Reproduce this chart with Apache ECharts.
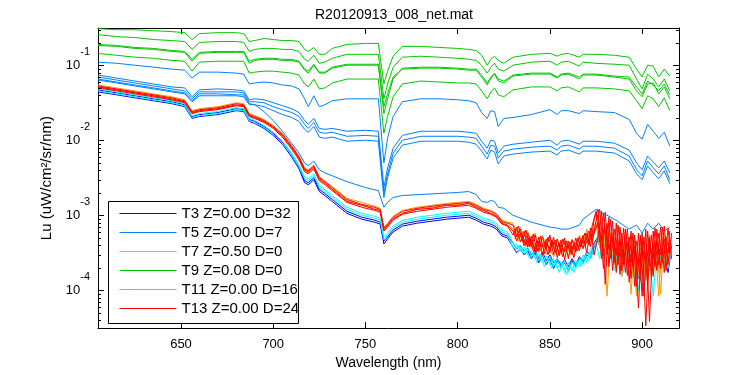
<!DOCTYPE html>
<html><head><meta charset="utf-8">
<script src="https://cdn.jsdelivr.net/npm/echarts@6/dist/echarts.min.js"></script>
<style>html,body{margin:0;padding:0;background:#fff}#c{width:750px;height:375px}</style>
</head><body><div id="c"></div>
<script>
// Wavelength grids (nm)
const wlMain = [605,615,625,635,645,652,656,660,670,680,684,687,690,695,700,705,710,714,717,719,722,725,728,732,740,750,757,760,762,765,770,780,790,800,806,810,813,816,818,820,822,825,830,840,850,854,856,860,866,868,875,885,893,897,900,903,906,909,912,915];
const wlLow = [605,615,625,635,645,652,656,660,670,680,684,687,690,695,700,705,710,714,717,719,722,725,728,732,740,748,755,758,760,762,765,770,778,786,794,800,806,810,814,818,821,824,827,
830,832,834,836,838,840,842,844,846,848,850,852,854,856,858,860,862,864,866,868,870,872,874,876,878,880,882,884,886,888,890,892,894,896,898,900,902,904,906,908,910,912,914,916];
const wlTailOdd = [831,833,835,837,839,841,843,845,847,849,851,853,855,857,859,861,863,865,867,869,871,873,875,877,879,881,883,885,887,889,891,893,895,897,899,901,903,905,907,909,911,913,915];

const legendNames = ['T3 Z=0.00 D=32','T5 Z=0.00 D=7','T7 Z=0.50 D=0','T9 Z=0.08 D=0','T11 Z=0.00 D=16','T13 Z=0.00 D=24'];
const lineColors = ['#0000ff','#0080ff','#00ffff','#00c800','#ff9900','#ff0000'];

// T9 (green) spectra, Lu on wlMain
const t9a = [0.310,0.300,0.300,0.291,0.283,0.274,0.222,0.266,0.274,0.274,0.266,0.209,0.215,0.229,0.222,0.215,0.215,0.209,0.164,0.154,0.174,0.141,0.141,0.169,0.191,0.197,0.197,0.0567,0.0841,0.133,0.180,0.180,0.174,0.169,0.164,0.159,0.137,0.101,0.121,0.133,0.117,0.107,0.129,0.141,0.145,0.133,0.141,0.145,0.129,0.141,0.141,0.137,0.129,0.0894,0.0702,0.101,0.098,0.0702,0.0894,0.0723];
const t9b = [0.258,0.243,0.236,0.222,0.215,0.209,0.164,0.203,0.209,0.209,0.203,0.154,0.164,0.169,0.169,0.164,0.164,0.154,0.121,0.114,0.137,0.107,0.111,0.125,0.141,0.141,0.141,0.036,0.0567,0.095,0.129,0.133,0.129,0.125,0.121,0.117,0.101,0.0792,0.095,0.107,0.0894,0.0841,0.101,0.111,0.114,0.101,0.111,0.114,0.098,0.111,0.107,0.104,0.101,0.066,0.0488,0.0769,0.066,0.0518,0.066,0.0459];
const t9c = [0.191,0.185,0.174,0.169,0.159,0.154,0.121,0.150,0.154,0.154,0.154,0.114,0.121,0.125,0.125,0.121,0.121,0.114,0.0894,0.0841,0.104,0.0816,0.0816,0.095,0.104,0.104,0.104,0.0229,0.036,0.066,0.0922,0.095,0.095,0.0922,0.0894,0.0894,0.0746,0.0585,0.0702,0.0792,0.066,0.0621,0.0746,0.0792,0.0792,0.0702,0.0769,0.0792,0.0702,0.0769,0.0769,0.0723,0.0702,0.0518,0.0419,0.0621,0.055,0.0459,0.0567,0.0407];
const t9d = [0.185,0.180,0.169,0.164,0.154,0.150,0.114,0.145,0.150,0.150,0.150,0.107,0.117,0.121,0.121,0.117,0.117,0.111,0.0868,0.0792,0.101,0.0792,0.0792,0.0922,0.101,0.101,0.101,0.0283,0.0419,0.0702,0.0894,0.0922,0.0922,0.0894,0.0868,0.0868,0.0702,0.055,0.0681,0.0769,0.0621,0.0585,0.0723,0.0769,0.0769,0.0681,0.0746,0.0769,0.066,0.0746,0.0746,0.0702,0.066,0.0459,0.0383,0.0567,0.0585,0.0419,0.0518,0.036];
const t9e = [0.145,0.137,0.129,0.125,0.117,0.114,0.0841,0.111,0.114,0.114,0.114,0.0792,0.0816,0.0841,0.0841,0.0816,0.0792,0.0746,0.0567,0.0518,0.066,0.0488,0.0503,0.0585,0.066,0.066,0.066,0.0125,0.0209,0.0383,0.0567,0.0621,0.0603,0.0585,0.0585,0.0567,0.0459,0.036,0.0445,0.0503,0.0407,0.0383,0.0473,0.0518,0.0518,0.0459,0.0503,0.0518,0.0445,0.0503,0.0503,0.0488,0.0459,0.0339,0.0266,0.0395,0.036,0.0283,0.0371,0.025];

// T5 (light blue) spectra, Lu on wlMain
const t5a = [0.1105,0.1072,0.1009,0.095,0.0894,0.0868,0.0681,0.0816,0.0816,0.0792,0.0769,0.0567,0.0585,0.0603,0.0585,0.055,0.0534,0.0488,0.036,0.0283,0.0395,0.0283,0.030,0.0339,0.036,0.036,0.036,0.00503,0.0107,0.0209,0.0329,0.036,0.036,0.0349,0.0339,0.0319,0.0236,0.0197,0.025,0.0243,0.0154,0.0197,0.0203,0.0222,0.0258,0.0222,0.025,0.025,0.0229,0.025,0.0243,0.0236,0.0191,0.0125,0.0104,0.0164,0.0133,0.0107,0.0129,0.00841];
const t5b = [0.0746,0.0681,0.0621,0.0567,0.0518,0.0503,0.0383,0.0473,0.0488,0.0473,0.0459,0.0349,0.036,0.0349,0.0319,0.0291,0.0266,0.0236,0.0185,0.0164,0.0197,0.0145,0.0141,0.0145,0.0133,0.0137,0.0133,0.00236,0.00432,0.00792,0.0117,0.0133,0.0133,0.0133,0.0129,0.0125,0.00979,0.00792,0.0101,0.00979,0.00681,0.00841,0.00894,0.0095,0.0101,0.00868,0.00979,0.0101,0.00894,0.00979,0.00979,0.00922,0.00746,0.00503,0.00407,0.00621,0.00518,0.00432,0.00534,0.00371];
const t5c = [0.0702,0.0641,0.0585,0.0534,0.0488,0.0459,0.036,0.0445,0.0445,0.0445,0.0432,0.0329,0.0329,0.0319,0.0283,0.0258,0.0236,0.0209,0.0164,0.0145,0.0174,0.0129,0.0125,0.0129,0.0114,0.0117,0.0114,0.00197,0.0036,0.00681,0.0101,0.0114,0.0114,0.0114,0.0111,0.0107,0.00841,0.0066,0.00868,0.00841,0.00585,0.00723,0.00769,0.00816,0.00841,0.00746,0.00841,0.00868,0.00769,0.00841,0.00841,0.00792,0.00621,0.00407,0.00339,0.00534,0.00432,0.0036,0.00459,0.0030];
const t5d = [0.066,0.0603,0.055,0.0503,0.0459,0.0432,0.0339,0.0419,0.0419,0.0407,0.0407,0.031,0.030,0.0283,0.025,0.0222,0.0203,0.018,0.0141,0.0129,0.0154,0.0111,0.0107,0.0111,0.00979,0.0101,0.00979,0.00174,0.00319,0.00585,0.00868,0.00979,0.00979,0.00979,0.0095,0.00894,0.00723,0.00567,0.00746,0.00702,0.00488,0.00621,0.0066,0.00702,0.00723,0.00641,0.00723,0.00746,0.0066,0.00723,0.00723,0.00681,0.00534,0.0036,0.0030,0.00459,0.00371,0.0031,0.00395,0.00266];
const t5e = [0.0641,0.0585,0.0534,0.0488,0.0445,0.0419,0.0329,0.0395,0.0395,0.0395,0.0383,0.030,0.030,0.0243,0.0185,0.0133,0.00922,0.00681,0.00503,0.00459,0.00534,0.00407,0.00371,0.00339,0.00283,0.00236,0.00215,0.00129,0.0015,0.00174,0.00185,0.00191,0.00197,0.00203,0.00209,0.00191,0.00154,0.0015,0.00159,0.00154,0.00129,0.00125,0.00101,0.000816,0.000702,0.000681,0.00066,0.00066,0.000746,0.000894,0.00121,0.000894,0.00066,0.000746,0.000585,0.000792,0.00066,0.000792,0.000621,0.000702];

// Bottom bundle spectra, Lu on wlLow
const t3a = [4.45e-2,4.07e-2,3.71e-2,3.39e-2,3.10e-2,2.83e-2,1.97e-2,2.09e-2,2.22e-2,2.50e-2,2.43e-2,1.80e-2,1.69e-2,1.45e-2,1.17e-2,8.94e-3,6.03e-3,4.19e-3,2.74e-3,2.58e-3,3.00e-3,2.09e-3,1.85e-3,1.54e-3,1.07e-3,8.94e-4,8.16e-4,7.69e-4,4.19e-4,4.88e-4,6.03e-4,7.23e-4,7.92e-4,8.41e-4,8.94e-4,9.22e-4,9.50e-4,8.68e-4,7.69e-4,7.23e-4,6.60e-4,5.34e-4,5.03e-4,
3.83e-4,3.19e-4,3.60e-4,3.00e-4,3.39e-4,2.66e-4,3.19e-4,2.36e-4,3.00e-4,2.22e-4,2.66e-4,1.97e-4,2.50e-4,2.09e-4,2.36e-4,1.85e-4,2.50e-4,2.09e-4,2.66e-4,2.36e-4,3.00e-4,2.66e-4,3.83e-4,4.59e-4,3.39e-4,5.50e-4,3.00e-4,4.59e-4,2.50e-4,3.83e-4,2.09e-4,4.32e-4,2.36e-4,3.60e-4,1.45e-4,3.83e-4,1.74e-4,4.32e-4,2.22e-4,4.07e-4,2.66e-4,3.83e-4,1.74e-4,3.60e-4];
const t3b = [4.73e-2,4.32e-2,3.95e-2,3.60e-2,3.29e-2,3.00e-2,2.09e-2,2.22e-2,2.36e-2,2.66e-2,2.58e-2,1.91e-2,1.80e-2,1.54e-2,1.25e-2,9.50e-3,6.41e-3,4.45e-3,2.91e-3,2.74e-3,3.19e-3,2.22e-3,1.97e-3,1.64e-3,1.14e-3,9.50e-4,8.68e-4,8.16e-4,4.59e-4,5.18e-4,6.41e-4,7.69e-4,8.41e-4,8.94e-4,9.50e-4,9.79e-4,1.01e-3,9.22e-4,8.16e-4,7.69e-4,7.02e-4,5.67e-4,5.34e-4,
4.32e-4,3.60e-4,3.95e-4,3.39e-4,3.71e-4,3.00e-4,3.49e-4,2.66e-4,3.29e-4,2.50e-4,3.00e-4,2.36e-4,2.66e-4,2.22e-4,2.58e-4,2.09e-4,2.66e-4,2.22e-4,2.83e-4,2.50e-4,3.29e-4,3.00e-4,4.32e-4,5.18e-4,3.83e-4,5.85e-4,3.19e-4,4.88e-4,2.83e-4,4.07e-4,2.50e-4,4.59e-4,2.66e-4,4.07e-4,2.09e-4,4.32e-4,1.97e-4,4.59e-4,2.36e-4,4.32e-4,3.00e-4,4.07e-4,2.36e-4,3.83e-4];
const t7a = [4.88e-2,4.45e-2,4.07e-2,3.71e-2,3.39e-2,3.10e-2,2.15e-2,2.29e-2,2.43e-2,2.74e-2,2.66e-2,1.97e-2,1.85e-2,1.59e-2,1.29e-2,9.79e-3,6.81e-3,4.73e-3,3.29e-3,3.10e-3,3.60e-3,2.50e-3,2.22e-3,1.85e-3,1.29e-3,1.07e-3,9.79e-4,9.22e-4,5.18e-4,5.85e-4,7.23e-4,8.68e-4,9.50e-4,1.01e-3,1.07e-3,1.11e-3,1.14e-3,1.04e-3,9.22e-4,8.68e-4,7.92e-4,6.41e-4,6.03e-4,
4.32e-4,3.60e-4,4.07e-4,3.19e-4,3.83e-4,2.83e-4,3.39e-4,2.50e-4,3.10e-4,2.36e-4,2.83e-4,2.09e-4,2.66e-4,1.97e-4,2.50e-4,1.74e-4,2.43e-4,1.97e-4,2.66e-4,2.22e-4,3.19e-4,2.66e-4,4.07e-4,4.88e-4,3.00e-4,4.32e-4,2.50e-4,3.83e-4,2.09e-4,3.39e-4,1.74e-4,3.19e-4,2.09e-4,3.00e-4,1.01e-4,3.19e-4,1.45e-4,3.00e-4,8.41e-5,3.39e-4,1.74e-4,3.83e-4,1.97e-4,3.60e-4];
const t7b = [4.59e-2,4.19e-2,3.83e-2,3.49e-2,3.19e-2,2.91e-2,2.03e-2,2.15e-2,2.29e-2,2.58e-2,2.50e-2,1.85e-2,1.74e-2,1.50e-2,1.21e-2,9.22e-3,6.41e-3,4.45e-3,3.10e-3,2.91e-3,3.39e-3,2.36e-3,2.09e-3,1.74e-3,1.21e-3,1.01e-3,9.22e-4,8.68e-4,4.73e-4,5.50e-4,6.81e-4,8.16e-4,8.94e-4,9.50e-4,1.01e-3,1.04e-3,1.07e-3,9.79e-4,8.68e-4,8.16e-4,7.46e-4,6.03e-4,5.67e-4,
3.71e-4,4.19e-4,3.39e-4,3.83e-4,3.00e-4,3.39e-4,2.66e-4,3.10e-4,2.36e-4,2.91e-4,2.22e-4,2.66e-4,1.97e-4,2.43e-4,1.74e-4,2.36e-4,1.85e-4,2.50e-4,2.09e-4,3.00e-4,2.36e-4,3.60e-4,3.00e-4,5.50e-4,3.83e-4,5.18e-4,3.19e-4,4.59e-4,2.66e-4,4.07e-4,2.22e-4,3.60e-4,2.50e-4,1.37e-4,3.00e-4,9.50e-5,3.19e-4,1.85e-4,3.39e-4,2.09e-4,3.60e-4,2.22e-4,3.83e-4,3.00e-4];
const t11a = [5.50e-2,5.03e-2,4.59e-2,4.19e-2,3.83e-2,3.49e-2,2.50e-2,2.66e-2,2.83e-2,3.19e-2,3.10e-2,2.29e-2,2.15e-2,1.91e-2,1.59e-2,1.25e-2,8.68e-3,6.21e-3,4.32e-3,4.07e-3,4.73e-3,3.29e-3,2.91e-3,2.43e-3,1.69e-3,1.50e-3,1.33e-3,1.25e-3,7.02e-4,7.92e-4,9.79e-4,1.17e-3,1.29e-3,1.37e-3,1.45e-3,1.50e-3,1.54e-3,1.41e-3,1.25e-3,1.17e-3,1.07e-3,8.68e-4,8.16e-4,
7.92e-4,5.85e-4,7.02e-4,5.18e-4,6.21e-4,4.32e-4,5.85e-4,4.07e-4,5.50e-4,3.83e-4,5.18e-4,3.60e-4,4.88e-4,3.83e-4,4.59e-4,3.39e-4,4.88e-4,3.83e-4,5.50e-4,4.32e-4,6.60e-4,4.32e-4,7.02e-4,1.01e-3,3.83e-4,7.46e-4,2.66e-4,5.85e-4,2.09e-4,5.18e-4,2.66e-4,4.59e-4,8.94e-5,5.18e-4,1.74e-4,4.88e-4,1.54e-4,5.50e-4,2.09e-4,4.59e-4,8.94e-5,5.85e-4,2.36e-4,5.18e-4];
const t11b = [5.18e-2,4.73e-2,4.32e-2,3.95e-2,3.49e-2,3.29e-2,2.29e-2,2.50e-2,2.66e-2,2.91e-2,2.91e-2,2.15e-2,1.97e-2,1.80e-2,1.50e-2,1.14e-2,7.92e-3,5.67e-3,3.95e-3,3.71e-3,4.32e-3,3.00e-3,2.66e-3,2.29e-3,1.59e-3,1.37e-3,1.25e-3,1.17e-3,6.60e-4,7.23e-4,9.22e-4,1.07e-3,1.21e-3,1.29e-3,1.37e-3,1.41e-3,1.45e-3,1.33e-3,1.17e-3,1.07e-3,1.01e-3,8.16e-4,7.69e-4,
6.60e-4,4.88e-4,5.50e-4,4.07e-4,4.88e-4,3.60e-4,4.32e-4,3.19e-4,4.07e-4,3.00e-4,3.83e-4,2.83e-4,3.60e-4,3.00e-4,3.83e-4,2.83e-4,4.07e-4,3.19e-4,4.32e-4,3.83e-4,5.18e-4,4.07e-4,5.85e-4,7.92e-4,3.19e-4,6.21e-4,2.36e-4,4.88e-4,1.85e-4,4.32e-4,2.09e-4,4.07e-4,1.54e-4,3.83e-4,1.74e-4,4.32e-4,1.37e-4,4.59e-4,1.74e-4,4.07e-4,1.97e-4,4.59e-4,2.22e-4,4.32e-4];
const t13a = [5.34e-2,4.88e-2,4.45e-2,4.07e-2,3.71e-2,3.39e-2,2.43e-2,2.58e-2,2.74e-2,3.10e-2,3.00e-2,2.22e-2,2.09e-2,1.85e-2,1.54e-2,1.21e-2,8.41e-3,6.03e-3,4.19e-3,3.95e-3,4.59e-3,3.19e-3,2.83e-3,2.36e-3,1.64e-3,1.41e-3,1.29e-3,1.21e-3,6.81e-4,7.69e-4,9.50e-4,1.14e-3,1.25e-3,1.33e-3,1.41e-3,1.45e-3,1.50e-3,1.37e-3,1.21e-3,1.14e-3,1.04e-3,8.41e-4,7.92e-4,
7.46e-4,5.18e-4,6.60e-4,4.32e-4,5.85e-4,3.83e-4,5.50e-4,3.39e-4,5.18e-4,3.60e-4,5.50e-4,3.00e-4,4.88e-4,3.19e-4,5.03e-4,2.66e-4,4.73e-4,3.29e-4,5.18e-4,3.60e-4,5.85e-4,3.83e-4,8.94e-4,1.21e-3,2.66e-4,1.11e-3,2.09e-4,8.41e-4,1.74e-4,7.02e-4,2.22e-4,6.60e-4,1.45e-4,5.50e-4,5.85e-5,5.85e-4,3.39e-5,5.18e-4,1.54e-4,6.60e-4,1.97e-4,7.23e-4,2.22e-4,5.85e-4];
const t13b = [5.03e-2,4.59e-2,4.19e-2,3.83e-2,3.49e-2,3.19e-2,2.29e-2,2.43e-2,2.58e-2,2.91e-2,2.83e-2,2.09e-2,1.97e-2,1.74e-2,1.45e-2,1.11e-2,7.69e-3,5.50e-3,3.83e-3,3.60e-3,4.19e-3,2.91e-3,2.58e-3,2.15e-3,1.50e-3,1.29e-3,1.17e-3,1.11e-3,6.21e-4,7.02e-4,8.68e-4,1.04e-3,1.14e-3,1.21e-3,1.29e-3,1.33e-3,1.37e-3,1.25e-3,1.11e-3,1.04e-3,9.50e-4,7.69e-4,7.23e-4,
5.50e-4,7.02e-4,4.45e-4,6.21e-4,3.83e-4,5.34e-4,3.19e-4,5.18e-4,3.00e-4,4.88e-4,3.19e-4,5.18e-4,2.74e-4,4.73e-4,2.58e-4,4.59e-4,3.00e-4,5.03e-4,3.39e-4,5.50e-4,3.19e-4,6.81e-4,3.00e-4,5.18e-4,1.14e-3,1.21e-4,9.50e-4,1.85e-4,7.92e-4,1.64e-4,6.81e-4,1.59e-4,6.21e-4,1.14e-4,5.85e-4,8.41e-5,6.60e-4,3.83e-5,6.21e-4,1.85e-4,7.02e-4,1.74e-4,6.81e-4,2.66e-4];
const t13c = [5.18e-2,4.73e-2,4.32e-2,3.95e-2,3.60e-2,3.29e-2,2.36e-2,2.50e-2,2.66e-2,3.00e-2,2.91e-2,2.15e-2,2.03e-2,1.80e-2,1.50e-2,1.17e-2,8.16e-3,5.85e-3,4.07e-3,3.83e-3,4.45e-3,3.10e-3,2.74e-3,2.22e-3,1.54e-3,1.37e-3,1.21e-3,1.17e-3,6.41e-4,7.46e-4,8.94e-4,1.07e-3,1.21e-3,1.25e-3,1.37e-3,1.37e-3,1.45e-3,1.29e-3,1.17e-3,1.07e-3,9.79e-4,7.92e-4,7.46e-4,
6.21e-4,4.59e-4,5.85e-4,3.95e-4,5.03e-4,4.32e-4,3.60e-4,4.59e-4,3.83e-4,4.32e-4,3.60e-4,4.45e-4,3.83e-4,4.07e-4,3.29e-4,3.95e-4,3.60e-4,4.32e-4,3.83e-4,4.59e-4,4.32e-4,4.88e-4,5.85e-4,7.92e-4,4.59e-4,6.60e-4,3.60e-4,5.18e-4,3.00e-4,4.59e-4,2.66e-4,4.32e-4,2.36e-4,3.83e-4,2.09e-4,3.60e-4,2.36e-4,4.07e-4,2.66e-4,4.45e-4,3.00e-4,4.88e-4,3.19e-4,4.07e-4];

// Extra noisy-tail spectra, Lu on wlTailOdd
const t7c = [3.60e-4,4.07e-4,3.19e-4,3.60e-4,2.66e-4,3.19e-4,2.36e-4,3.00e-4,2.09e-4,2.66e-4,1.97e-4,2.50e-4,1.74e-4,2.36e-4,1.64e-4,2.22e-4,1.74e-4,2.50e-4,2.09e-4,3.00e-4,2.50e-4,3.83e-4,4.32e-4,2.66e-4,5.18e-4,2.09e-4,4.32e-4,1.85e-4,3.60e-4,1.54e-4,3.83e-4,1.74e-4,3.19e-4,8.94e-5,3.60e-4,1.21e-4,3.39e-4,1.54e-4,3.83e-4,1.74e-4,4.07e-4,2.09e-4,3.39e-4];
const t11c = [6.60e-4,4.59e-4,5.85e-4,3.83e-4,5.18e-4,3.60e-4,4.59e-4,3.39e-4,4.59e-4,3.83e-4,4.32e-4,3.19e-4,4.07e-4,3.39e-4,4.32e-4,3.00e-4,4.07e-4,3.60e-4,4.88e-4,3.83e-4,5.50e-4,4.32e-4,7.92e-4,3.83e-4,6.60e-4,8.41e-5,5.85e-4,2.22e-4,4.59e-4,1.54e-4,5.18e-4,1.97e-4,4.32e-4,8.41e-5,4.88e-4,1.74e-4,4.07e-4,1.45e-4,4.59e-4,8.41e-5,5.18e-4,2.09e-4,4.32e-4];
const t13d = [5.85e-4,7.23e-4,4.59e-4,6.41e-4,3.83e-4,5.67e-4,3.29e-4,5.34e-4,3.10e-4,5.18e-4,3.83e-4,4.73e-4,2.91e-4,4.88e-4,3.60e-4,4.45e-4,2.74e-4,5.03e-4,3.83e-4,5.85e-4,4.07e-4,7.46e-4,1.14e-3,4.45e-4,1.07e-3,3.00e-4,8.94e-4,2.36e-4,7.46e-4,1.85e-4,6.60e-4,1.29e-4,5.85e-4,1.14e-4,5.50e-4,8.41e-5,6.21e-4,1.64e-4,6.81e-4,2.22e-4,7.02e-4,1.85e-4,6.21e-4];
const t13e = [4.88e-4,6.21e-4,5.50e-4,4.07e-4,5.18e-4,3.39e-4,4.59e-4,3.83e-4,4.45e-4,3.00e-4,4.73e-4,3.19e-4,4.32e-4,2.83e-4,4.59e-4,3.19e-4,4.19e-4,3.39e-4,4.88e-4,4.07e-4,6.21e-4,4.59e-4,8.41e-4,1.21e-3,1.97e-4,7.92e-4,2.66e-4,6.60e-4,2.22e-4,5.85e-4,1.74e-4,5.18e-4,2.09e-4,4.59e-4,1.37e-4,5.18e-4,1.14e-4,5.50e-4,2.09e-4,5.85e-4,2.36e-4,5.18e-4,3.19e-4];

// Axis ranges
const xMin = 605, xMax = 920;
const yMin = Math.pow(10, -4.5), yMax = Math.pow(10, -0.5);

// drawing order: T3, T5, T7, T9, T11, T13 (later on top)
const lines = [
  {g: 0, x: wlLow, y: t3a}, {g: 0, x: wlLow, y: t3b},
  {g: 1, x: wlMain, y: t5a}, {g: 1, x: wlMain, y: t5b}, {g: 1, x: wlMain, y: t5c}, {g: 1, x: wlMain, y: t5d}, {g: 1, x: wlMain, y: t5e},
  {g: 2, x: wlLow, y: t7a}, {g: 2, x: wlLow, y: t7b}, {g: 2, x: wlTailOdd, y: t7c},
  {g: 3, x: wlMain, y: t9a}, {g: 3, x: wlMain, y: t9b}, {g: 3, x: wlMain, y: t9c}, {g: 3, x: wlMain, y: t9d}, {g: 3, x: wlMain, y: t9e},
  {g: 4, x: wlLow, y: t11a}, {g: 4, x: wlLow, y: t11b}, {g: 4, x: wlTailOdd, y: t11c},
  {g: 5, x: wlLow, y: t13a}, {g: 5, x: wlLow, y: t13b}, {g: 5, x: wlLow, y: t13c}, {g: 5, x: wlTailOdd, y: t13d}, {g: 5, x: wlTailOdd, y: t13e}
];

const series = lines.map(function (ln) {
  return {
    type: 'line', name: legendNames[ln.g], symbol: 'none', showSymbol: false,
    silent: true, animation: false, z: 2,
    color: lineColors[ln.g],
    lineStyle: {color: lineColors[ln.g], width: 1},
    data: ln.x.map(function (w, i) { return [w, ln.y[i]]; })
  };
});

// minor log ticks (axis decoration)
const minorTicks = [];
for (let e = -5; e <= -1; e++) {
  for (let m = 2; m <= 9; m++) {
    const v = m * Math.pow(10, e);
    if (v > yMin && v < yMax) minorTicks.push([xMin, v]);
  }
}
series.push({
  type: 'custom', silent: true, animation: false, z: 5,
  data: minorTicks,
  renderItem: function (params, api) {
    const v = api.value(1);
    const pl = api.coord([xMin, v]);
    const pr = api.coord([xMax, v]);
    const y = Math.round(pl[1]) + 0.5;
    return {type: 'group', children: [
      {type: 'line', shape: {x1: pl[0], y1: y, x2: pl[0] + 3, y2: y}, style: {stroke: '#000', lineWidth: 1}},
      {type: 'line', shape: {x1: pr[0] - 3, y1: y, x2: pr[0], y2: y}, style: {stroke: '#000', lineWidth: 1}}
    ]};
  }
});

const FONT = 'Liberation Sans, Arial, sans-serif';
const axisCommonX = {
  type: 'value', min: xMin, max: xMax, minInterval: 50, maxInterval: 50,
  axisLine: {show: true, onZero: false, lineStyle: {color: '#000', width: 1}},
  axisTick: {show: true, inside: true, length: 6, lineStyle: {color: '#000'}},
  splitLine: {show: false}
};
const axisCommonY = {
  type: 'log', logBase: 10, min: yMin, max: yMax,
  axisLine: {show: true, onZero: false, lineStyle: {color: '#000', width: 1}},
  axisTick: {show: true, inside: true, length: 6, lineStyle: {color: '#000'}},
  splitLine: {show: false}, minorTick: {show: false}
};

const chart = echarts.init(document.getElementById('c'), null, {renderer: 'canvas'});
chart.setOption({
  backgroundColor: '#ffffff',
  animation: false,
  title: {
    text: 'R20120913_008_net.mat', left: 389, top: 3, textAlign: 'center',
    textStyle: {fontSize: 14, fontWeight: 'normal', fontFamily: FONT, color: '#000'}
  },
  grid: {left: 98, right: 71, top: 28, bottom: 44, containLabel: false},
  legend: {
    data: legendNames.map(function (n, i) {
      return {name: n, itemStyle: {opacity: 0, borderWidth: 0}, lineStyle: {color: lineColors[i], width: 1}};
    }),
    orient: 'vertical', left: 119, top: 206,
    itemWidth: 57, itemHeight: 15, itemGap: 4, padding: 0, selectedMode: false, z: 4,
    itemStyle: {opacity: 0, borderWidth: 0},
    lineStyle: {width: 1},
    textStyle: {fontSize: 15, fontFamily: FONT, color: '#000', lineHeight: 15}
  },
  graphic: [{
    type: 'rect', z: 3, silent: true,
    shape: {x: 108.5, y: 201.5, width: 190, height: 122},
    style: {fill: '#ffffff', stroke: '#000000', lineWidth: 1}
  }],
  xAxis: [
    Object.assign({}, axisCommonX, {
      position: 'bottom',
      axisLabel: {
        color: '#000', fontSize: 13, fontFamily: FONT, margin: 10,
        formatter: function (v) { return (v % 50 === 0) ? String(v) : ''; }
      },
      name: 'Wavelength (nm)', nameLocation: 'middle', nameGap: 22,
      nameTextStyle: {fontSize: 14, fontFamily: FONT, color: '#000'}
    }),
    Object.assign({}, axisCommonX, {position: 'top', axisLabel: {show: false}})
  ],
  yAxis: [
    Object.assign({}, axisCommonY, {
      position: 'left',
      axisLabel: {
        margin: 8,
        formatter: function (v) {
          const l = Math.log10(v);
          const e = Math.round(l);
          if (Math.abs(l - e) > 1e-6) return '';
          return '{b|10}{s|' + e + '}';
        },
        rich: {
          b: {fontSize: 13, fontFamily: FONT, color: '#000', lineHeight: 38, verticalAlign: 'middle'},
          s: {fontSize: 11, fontFamily: FONT, color: '#000', lineHeight: 12, verticalAlign: 'top'}
        }
      },
      name: 'Lu (uW/cm\u00B2/sr/nm)', nameLocation: 'middle', nameGap: 34, nameRotate: 90,
      nameTextStyle: {fontSize: 15, fontFamily: FONT, color: '#000'}
    }),
    Object.assign({}, axisCommonY, {position: 'right', axisLabel: {show: false}})
  ],
  series: series
});
</script>
</body></html>
